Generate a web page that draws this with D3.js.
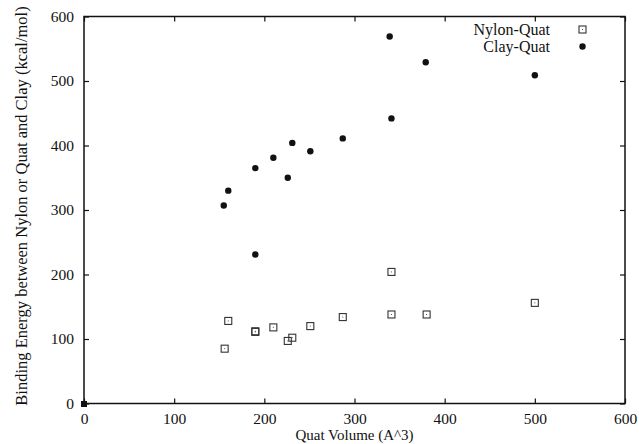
<!DOCTYPE html>
<html>
<head>
<meta charset="utf-8">
<script src="https://cdn.jsdelivr.net/npm/d3@7"></script>
<style>
body { margin: 0; background: #fff; }
text { font-family: "Liberation Serif", "DejaVu Serif", serif; fill: #111; }
</style>
</head>
<body>
<svg width="639" height="444"></svg>
<script>
// Quat volume (A^3) and binding energy (kcal/mol)
var nylonX = [156, 160, 190, 190, 210, 226, 231, 251, 287, 341, 341, 380, 500];
var nylonY = [85, 128, 111, 112, 118, 97, 102, 120, 134, 204, 138, 138, 156];
var clayX = [155, 160, 190, 190, 210, 226, 231, 251, 287, 339, 341, 379, 500];
var clayY = [307, 330, 365, 231, 381, 350, 404, 391, 411, 569, 442, 529, 509];
var originPt = [[0, 0]];
var xTicks = [0, 100, 200, 300, 400, 500, 600];
var yTicks = [0, 100, 200, 300, 400, 500, 600];
var legendNames = ["Nylon-Quat", "Clay-Quat"];

var margin = {top: 16.5, right: 14, bottom: 40.5, left: 84},
    width = 639 - margin.left - margin.right,
    height = 444 - margin.top - margin.bottom;

var x = d3.scaleLinear().domain([0, 600]).range([0, width]);
var y = d3.scaleLinear().domain([0, 600]).range([height, 0]);

var svg = d3.select("svg");
var g = svg.append("g")
    .attr("transform", "translate(" + margin.left + "," + margin.top + ")");

//inward ticks on all four sides
function styleAxis(sel) {
    sel.select(".domain").remove();
    sel.selectAll(".tick line").attr("stroke", "#111").attr("stroke-width", 1.2);
    sel.selectAll("text").style("font-size", "15.5px").attr("fill", "#111");
}

g.append("g").attr("transform", "translate(0," + height + ")")
    .call(d3.axisBottom(x).tickValues(xTicks).tickSize(-5).tickPadding(9).tickFormat(d3.format("d")))
    .call(styleAxis);
g.append("g")
    .call(d3.axisTop(x).tickValues(xTicks).tickSize(-5).tickFormat(""))
    .call(styleAxis);
g.append("g")
    .call(d3.axisLeft(y).tickValues(yTicks).tickSize(-5).tickPadding(10).tickFormat(d3.format("d")))
    .call(styleAxis);
g.append("g").attr("transform", "translate(" + width + ",0)")
    .call(d3.axisRight(y).tickValues(yTicks).tickSize(-5).tickFormat(""))
    .call(styleAxis);

g.append("rect")
    .attr("width", width).attr("height", height)
    .attr("fill", "none").attr("stroke", "#111").attr("stroke-width", 1.5);

// origin marker
g.selectAll(".origin").data(originPt).enter().append("rect")
    .attr("class", "origin")
    .attr("x", function(d) { return x(d[0]) - 3; })
    .attr("y", function(d) { return y(d[1]) - 2.5; })
    .attr("width", 6).attr("height", 6).attr("fill", "#111");

// Nylon-Quat open squares
var nylon = g.selectAll(".nylon").data(nylonX).enter().append("g")
    .attr("class", "nylon")
    .attr("transform", function(d, i) { return "translate(" + x(d) + "," + y(nylonY[i]) + ")"; });
nylon.append("rect").attr("x", -3.5).attr("y", -3.5).attr("width", 7).attr("height", 7)
    .attr("fill", "none").attr("stroke", "#333").attr("stroke-width", 1.1);
nylon.append("rect").attr("x", -0.5).attr("y", -0.5).attr("width", 1).attr("height", 1).attr("fill", "#555");

// Clay-Quat filled circles
g.selectAll(".clay").data(clayX).enter().append("circle")
    .attr("class", "clay")
    .attr("cx", function(d) { return x(d); })
    .attr("cy", function(d, i) { return y(clayY[i]); })
    .attr("r", 3.2).attr("fill", "#111");

// legend
var leg = g.selectAll(".leg").data(legendNames).enter().append("g")
    .attr("class", "leg")
    .attr("transform", function(d, i) { return "translate(0," + (13 + i * 17) + ")"; });
leg.append("text").attr("x", 466).attr("dy", "0.35em").attr("text-anchor", "end")
    .style("font-size", "16px").text(function(d) { return d; });
leg.filter(function(d, i) { return i === 0; }).append("rect")
    .attr("x", 495).attr("y", -3.5).attr("width", 7).attr("height", 7)
    .attr("fill", "none").attr("stroke", "#333").attr("stroke-width", 1.1);
leg.filter(function(d, i) { return i === 0; }).append("rect")
    .attr("x", 498).attr("y", -0.5).attr("width", 1).attr("height", 1).attr("fill", "#555");
leg.filter(function(d, i) { return i === 1; }).append("circle")
    .attr("cx", 498.5).attr("cy", 0).attr("r", 3.2).attr("fill", "#111");

// axis titles
svg.append("text")
    .attr("x", margin.left + width / 2).attr("y", 440)
    .attr("text-anchor", "middle").style("font-size", "15px")
    .text("Quat Volume (A^3)");
svg.append("text")
    .attr("transform", "translate(27," + (margin.top + height / 2 - 4) + ") rotate(-90)")
    .attr("text-anchor", "middle").style("font-size", "16.5px")
    .text("Binding Energy between Nylon or Quat and Clay (kcal/mol)");
</script>
</body>
</html>
